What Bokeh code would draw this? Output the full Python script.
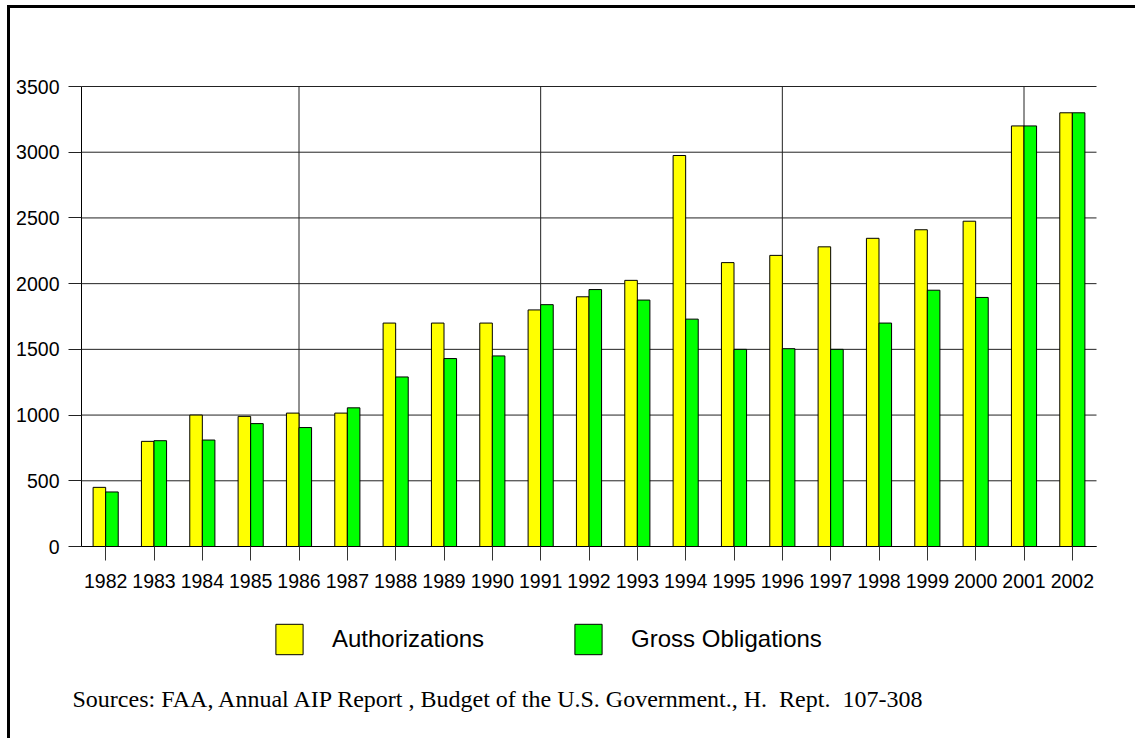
from bokeh.plotting import figure
from bokeh.models import ColumnDataSource, FixedTicker, Legend, LegendItem, Label, Range1d
from bokeh.transform import dodge
from bokeh.embed import file_html
from bokeh.resources import INLINE

# ---- data ----
years = [1982, 1983, 1984, 1985, 1986, 1987, 1988, 1989, 1990, 1991, 1992,
         1993, 1994, 1995, 1996, 1997, 1998, 1999, 2000, 2001, 2002]
authorizations = [450, 800, 1000, 990, 1015, 1015, 1700, 1700, 1700, 1800, 1900,
                  2025, 2975, 2160, 2215, 2280, 2345, 2410, 2475, 3200, 3300]
gross_obligations = [415, 805, 810, 935, 905, 1055, 1290, 1430, 1450, 1840, 1955,
                     1875, 1730, 1500, 1505, 1500, 1700, 1950, 1895, 3200, 3300]
y_ticks = [0, 500, 1000, 1500, 2000, 2500, 3000, 3500]
grid_years = [1986, 1991, 1996, 2001]
series_labels = ["Authorizations", "Gross Obligations"]
source_note = "Sources: FAA, Annual AIP Report , Budget of the U.S. Government., H. \u00a0Rept. \u00a0107-308"

# ---- layout constants (canvas pixels) ----
W, H = 1128, 733
plot_left, plot_right = 71, 1086      # where x = first-0.5 .. last+0.5 land
plot_top, plot_bottom = 78, 538       # where y = 3500 .. 0 land
x_lo, x_hi = years[0] - 0.5, years[-1] + 0.5
y_lo, y_hi = 0, y_ticks[-1]
kx = (plot_right - plot_left) / (x_hi - x_lo)
ky = (plot_bottom - plot_top) / (y_hi - y_lo)
x_range = Range1d(x_lo - plot_left / kx, x_hi + (W - plot_right) / kx)
y_range = Range1d(y_lo - (H - plot_bottom) / ky, y_hi + plot_top / ky)

src = ColumnDataSource(data=dict(year=years, auth=authorizations, gross=gross_obligations))

p = figure(width=W, height=H, x_range=x_range, y_range=y_range,
           output_backend="svg", toolbar_location=None,
           min_border_left=0, min_border_right=0, min_border_top=0, min_border_bottom=0,
           styles={"margin-left": "7px", "margin-top": "5px",
                   "border-top": "3px solid black", "border-left": "3px solid black"})
p.outline_line_color = None
p.background_fill_color = "white"
p.border_fill_color = "white"
p.xgrid.visible = False
p.ygrid.visible = False

# grid lines limited to the plotting area
grid_col = "#222222"
p.segment(x0=[x_lo] * len(y_ticks), x1=[x_hi] * len(y_ticks), y0=y_ticks, y1=y_ticks,
          line_color=grid_col, line_width=1)
p.segment(x0=grid_years, x1=grid_years, y0=[y_lo] * len(grid_years), y1=[y_hi] * len(grid_years),
          line_color=grid_col, line_width=1)

bar_w = 0.26
r1 = p.vbar(x=dodge("year", -bar_w / 2), top="auth", bottom=0, width=bar_w, source=src,
            fill_color="#FFFF00", line_color="black", line_width=1)
r2 = p.vbar(x=dodge("year", bar_w / 2), top="gross", bottom=0, width=bar_w, source=src,
            fill_color="#00FF00", line_color="black", line_width=1)

# axes placed at data locations
p.xaxis.fixed_location = 0
p.xaxis.bounds = (x_lo, x_hi)
p.xaxis.ticker = FixedTicker(ticks=years)
p.xaxis.major_label_overrides = {y: str(y) for y in years}
p.xaxis.major_tick_out = 14
p.xaxis.major_tick_in = 0
p.xaxis.minor_tick_line_color = None
p.xaxis.major_tick_line_color = "#333333"
p.xaxis.axis_line_color = "black"
p.xaxis.major_label_standoff = 13
p.xaxis.major_label_text_font = "Liberation Sans"
p.xaxis.major_label_text_font_size = "19.5px"
p.xaxis.major_label_text_color = "black"

p.yaxis.fixed_location = x_lo
p.yaxis.bounds = (y_lo, y_hi)
p.yaxis.ticker = FixedTicker(ticks=y_ticks)
p.yaxis.major_tick_out = 13
p.yaxis.major_tick_in = 0
p.yaxis.minor_tick_line_color = None
p.yaxis.major_tick_line_color = grid_col
p.yaxis.axis_line_color = "black"
p.yaxis.major_label_standoff = 9
p.yaxis.major_label_text_font = "Liberation Sans"
p.yaxis.major_label_text_font_size = "19.5px"
p.yaxis.major_label_text_color = "black"

# legend below the plot area
legend = Legend(items=[LegendItem(label=series_labels[0], renderers=[r1]),
                       LegendItem(label=series_labels[1], renderers=[r2])],
                location=(262, 83), orientation="horizontal",
                glyph_width=34, glyph_height=38, label_standoff=26, spacing=87,
                padding=0, margin=0, border_line_color=None, background_fill_alpha=0,
                label_text_font="Liberation Sans", label_text_font_size="24px",
                label_text_color="black")
p.add_layout(legend)

note = Label(x=62, y=43, x_units="screen", y_units="screen", text=source_note,
             text_font="Liberation Serif", text_font_size="24px", text_color="black",
             text_baseline="alphabetic")
p.add_layout(note)

open("out.html", "w").write(file_html(p, INLINE))
